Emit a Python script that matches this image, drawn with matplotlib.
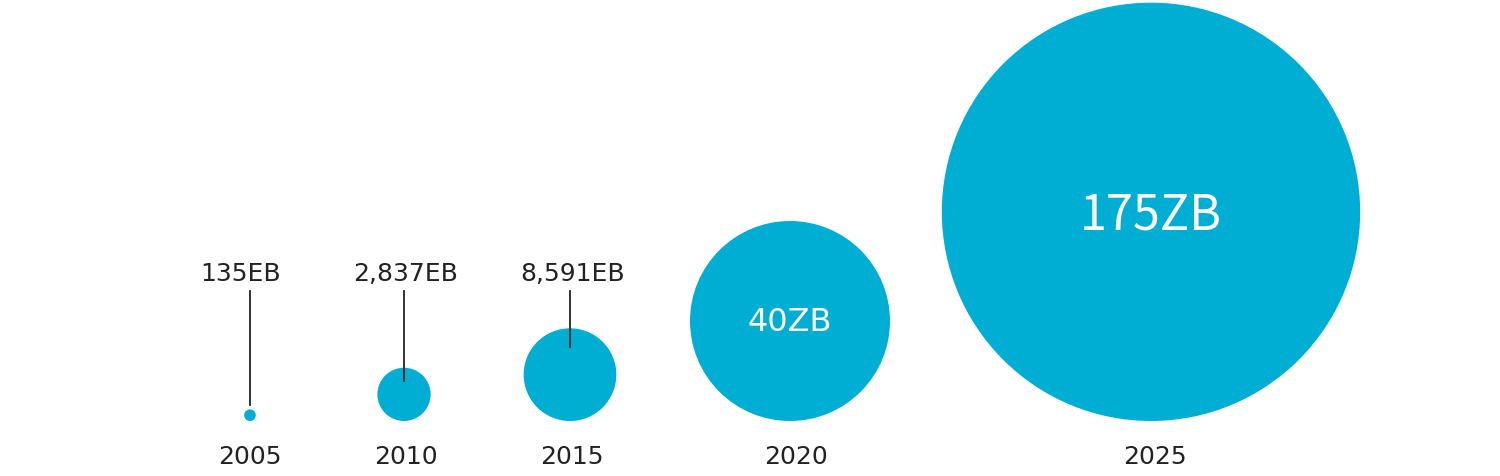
import numpy as np
import matplotlib
matplotlib.use('Agg')
import matplotlib.pyplot as plt
from matplotlib.patches import Circle

plt.rcParams['font.family'] = ['DejaVu Sans']

years = ['2005', '2010', '2015', '2020', '2025']
values_eb = [135, 2837, 8591, 40000, 175000]
value_labels = ['135EB', '2,837EB', '8,591EB', '40ZB', '175ZB']
x_pos = [250, 404, 570, 790, 1151]
# label inside the bubble, or above it with a leader line
inside = [False, False, False, True, True]
# leader line ends at center - depth*r
leader_depth = [1.7, 0.5, 0.6, 0, 0]
# small horizontal nudges of the texts (px)
year_dx = [0, 2, 2, 6, 4]
label_dx = [-9, 2, 3, 0, 0]

blue = '#00AED4'
dark = '#222222'
baseline = 422  # bottom of all bubbles (pixels from top)
scale = 0.5     # radius in px = scale*sqrt(value)

fig = plt.figure(figsize=(15, 4.77), dpi=100)
ax = fig.add_axes([0, 0, 1, 1])
ax.set_xlim(0, 1500)
ax.set_ylim(477, 0)
ax.set_aspect('equal')
ax.axis('off')

for i in range(len(years)):
    r = scale * np.sqrt(values_eb[i])
    cy = baseline - r
    x = x_pos[i]
    ax.add_patch(Circle((x, cy), r, color=blue, lw=0))
    ax.text(x + year_dx[i], 457, years[i], ha='center', va='center',
            fontsize=18, color=dark)
    if inside[i]:
        if values_eb[i] < 100000:
            ax.text(x, cy + 1, value_labels[i], ha='center', va='center',
                    fontsize=23, color='white')
        else:
            ax.text(x, cy + 3, value_labels[i], ha='center', va='center',
                    fontsize=35, color='white', family='Noto Sans CJK JP')
    else:
        ax.text(x + label_dx[i], 274, value_labels[i], ha='center', va='center',
                fontsize=18, color=dark)
        ax.plot([x, x], [292, cy - leader_depth[i] * r], color=dark, lw=1.3)

fig.savefig('out.png', dpi=100)
